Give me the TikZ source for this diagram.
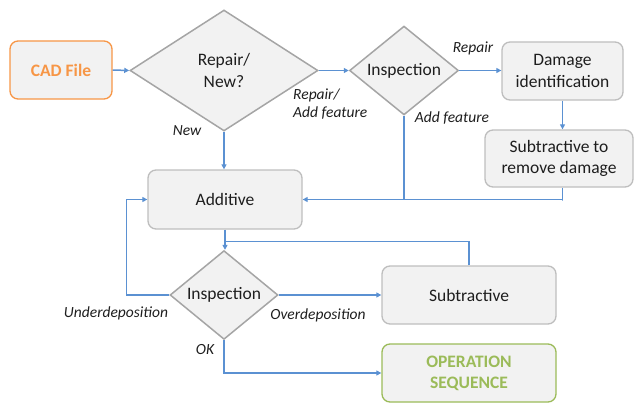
\documentclass[tikz,border=0pt]{standalone}
\usepackage{fontspec}
\setmainfont{Carlito}
\usetikzlibrary{shapes.geometric,arrows.meta,calc}
\definecolor{lineblue}{RGB}{91,145,210}
\definecolor{boxfill}{RGB}{242,242,242}
\definecolor{boxborder}{RGB}{190,190,190}
\definecolor{diaborder}{RGB}{165,165,165}
\definecolor{orangec}{RGB}{247,150,70}
\definecolor{greenc}{RGB}{155,187,89}
\definecolor{textc}{RGB}{30,30,30}
\begin{document}
\begin{tikzpicture}[x=1pt,y=-1pt,
  box/.style={draw=boxborder,fill=boxfill,line width=1.3pt,rounded corners=8pt,text=textc,
    align=center,inner sep=0pt,font=\fontsize{17.5}{21.5}\selectfont},
  dia/.style={draw=diaborder,fill=boxfill,line width=1.5pt,diamond,inner sep=0pt,text=textc,
    align=center,font=\fontsize{17.5}{21.5}\selectfont},
  conn/.style={draw=lineblue,line width=1.5pt},
  arr/.style={conn,-{Triangle[length=5pt,width=5pt]}},
  lbl/.style={font=\fontsize{15.5}{18}\selectfont\itshape,inner sep=0pt,align=left,text=textc}]
\useasboundingbox (0,0) rectangle (634,404);
% nodes
\node[box,draw=orangec,text=orangec,font=\fontsize{17.5}{21}\selectfont\bfseries,
  minimum width=102pt,minimum height=58pt] (cad) at (61,70) {CAD File};
\node[dia,minimum width=188pt,minimum height=121pt] (d1) at (224,70.5) {Repair/\\New?};
\node[dia,minimum width=109pt,minimum height=81pt] (d2) at (404,70.5) {Inspection};
\node[box,minimum width=121pt,minimum height=58pt] (dmg) at (562.5,71) {Damage\\identification};
\node[box,minimum width=148pt,minimum height=57pt] (subrm) at (559,158.5) {Subtractive to\\remove damage};
\node[box,minimum width=154pt,minimum height=59pt] (add) at (225,199.5) {Additive};
\node[dia,minimum width=108pt,minimum height=81pt] (d3) at (224,295) {Inspection};
\node[box,minimum width=174pt,minimum height=58pt] (sub) at (469,295) {Subtractive};
\node[box,draw=greenc,text=greenc,font=\fontsize{17.5}{21}\selectfont\bfseries,
  minimum width=174pt,minimum height=58pt] (op) at (469,373) {OPERATION\\SEQUENCE};
\coordinate (j) at (225,241.5);
% connectors
\draw[arr] (cad.east) -- (d1.west);
\draw[arr] (d1.east) -- (d2.west);
\draw[arr] (d2.east) -- (d2.east -| dmg.west);
\draw[arr] (dmg.south) -- (dmg.south |- subrm.north);
\draw[arr] (dmg.south |- subrm.south) -- ++(0,13) |- (add.east);
\draw[conn] (d2.south) -- (d2.south |- add.east);
\draw[arr] (d1.south) -- (d1.south |- add.north);
\draw[arr] (add.south -| j) -- (j |- d3.north);
\draw[conn] (sub.north) -- (sub.north |- j) -- (j);
\draw[arr] (d3.west) -- ++(-43,0) |- (add.west);
\draw[arr] (d3.east) -- (sub.west);
\draw[arr] (d3.south) |- (op.west);
% labels
\node[lbl] (lnew) at (187,131) {New};
\node[lbl,anchor=north west] (lra) at (293,89) {Repair/\\Add feature};
\node[lbl] (lrep) at (473,48) {Repair};
\node[lbl] (ladd) at (452,118) {Add feature};
\node[lbl] (lund) at (116,313) {Underdeposition};
\node[lbl] (lover) at (318,315) {Overdeposition};
\node[lbl] (lok) at (205,350) {OK};
\end{tikzpicture}
\end{document}
